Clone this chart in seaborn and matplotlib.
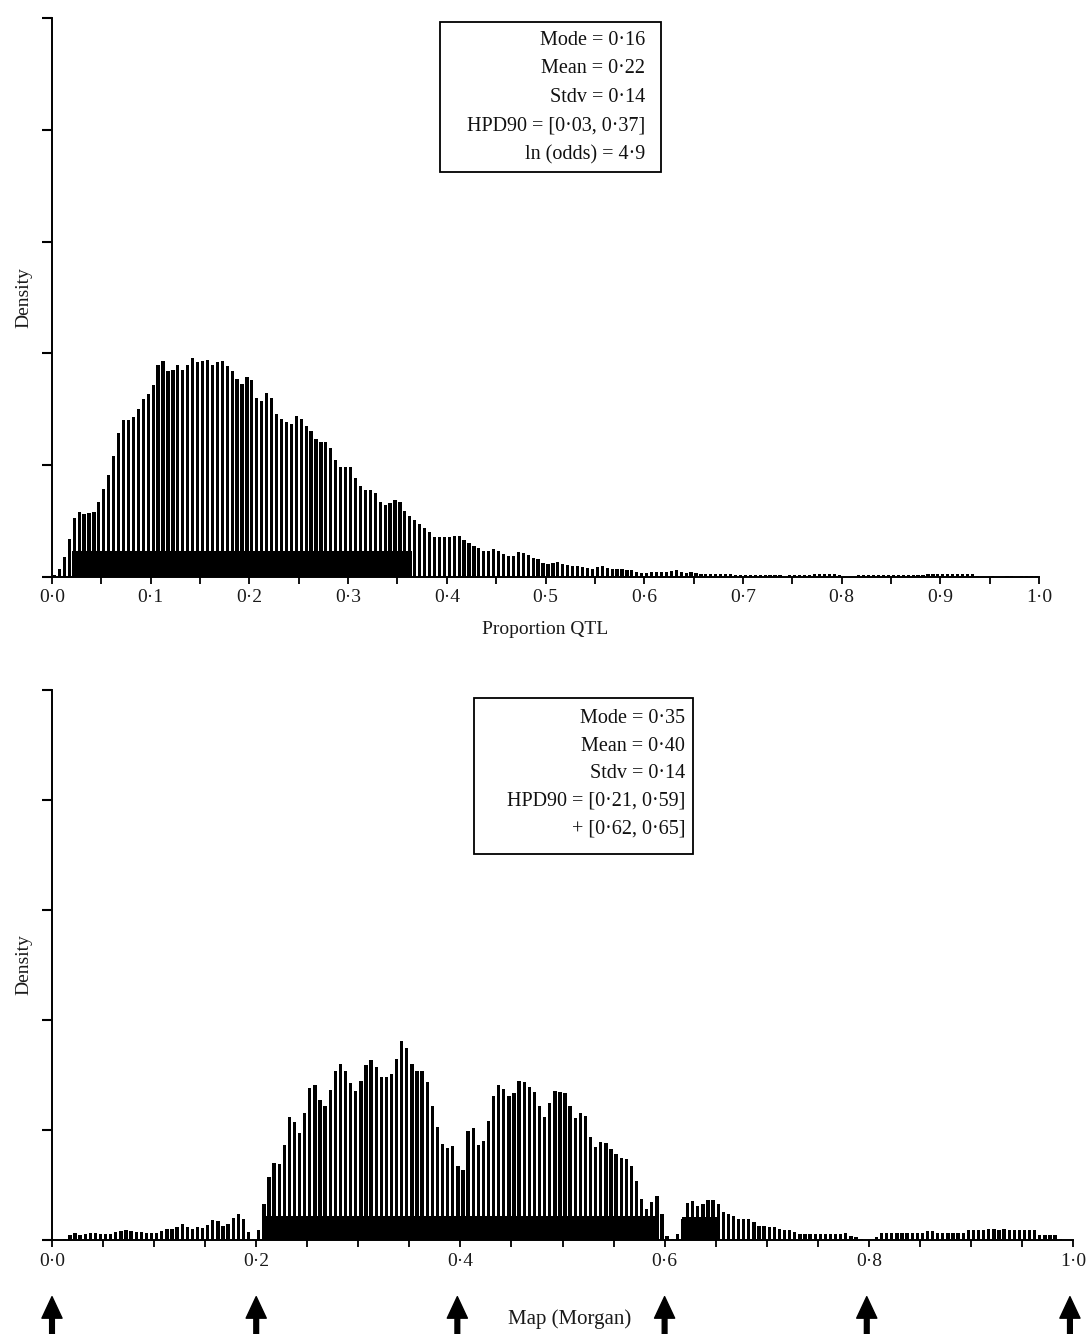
import numpy as np
import pandas as pd
import matplotlib
matplotlib.use("Agg")
import matplotlib.pyplot as plt
import seaborn as sns
from matplotlib.patches import Rectangle

# ---------------- data ----------------
BIN_WIDTH = 0.005

# posterior density of proportion QTL (200 bins of width 0.005)
qtl_density = [
    0.03, 0.14, 0.36, 0.68, 1.05, 1.16, 1.13, 1.14, 1.16, 1.34,
    1.57, 1.82, 2.16, 2.57, 2.80, 2.80, 2.86, 3.00, 3.18, 3.27,
    3.43, 3.80, 3.86, 3.68, 3.71, 3.80, 3.71, 3.80, 3.91, 3.84,
    3.86, 3.88, 3.79, 3.84, 3.86, 3.77, 3.68, 3.55, 3.46, 3.57,
    3.52, 3.20, 3.14, 3.30, 3.21, 2.91, 2.82, 2.77, 2.73, 2.88,
    2.82, 2.70, 2.61, 2.46, 2.41, 2.41, 2.30, 2.09, 1.96, 1.96,
    1.96, 1.77, 1.63, 1.55, 1.55, 1.50, 1.34, 1.29, 1.32, 1.38,
    1.34, 1.18, 1.09, 1.02, 0.95, 0.88, 0.80, 0.71, 0.71, 0.71,
    0.71, 0.73, 0.73, 0.66, 0.61, 0.55, 0.52, 0.46, 0.46, 0.50,
    0.46, 0.41, 0.38, 0.38, 0.45, 0.43, 0.39, 0.34, 0.32, 0.25,
    0.23, 0.25, 0.27, 0.23, 0.21, 0.20, 0.20, 0.18, 0.16, 0.14,
    0.18, 0.20, 0.16, 0.14, 0.14, 0.14, 0.13, 0.13, 0.09, 0.07,
    0.07, 0.09, 0.09, 0.09, 0.09, 0.11, 0.13, 0.09, 0.07, 0.09,
    0.07, 0.05, 0.05, 0.05, 0.05, 0.05, 0.05, 0.05, 0.04, 0.04,
    0.04, 0.04, 0.04, 0.04, 0.04, 0.04, 0.04, 0.04, 0.00, 0.04,
    0.04, 0.04, 0.04, 0.04, 0.05, 0.05, 0.05, 0.05, 0.05, 0.04,
    0.00, 0.00, 0.00, 0.04, 0.04, 0.04, 0.04, 0.04, 0.04, 0.04,
    0.04, 0.04, 0.04, 0.04, 0.04, 0.04, 0.04, 0.05, 0.05, 0.05,
    0.05, 0.05, 0.05, 0.05, 0.05, 0.05, 0.05, 0.01, 0.00, 0.00,
    0.01, 0.00, 0.00, 0.02, 0.02, 0.00, 0.02, 0.02, 0.02, 0.02,
]

# posterior density of QTL map position (200 bins of width 0.005 Morgan)
map_density = [
    0.00, 0.00, 0.02, 0.09, 0.13, 0.09, 0.11, 0.13, 0.13, 0.11,
    0.11, 0.11, 0.15, 0.16, 0.18, 0.16, 0.15, 0.15, 0.13, 0.13,
    0.13, 0.16, 0.20, 0.20, 0.24, 0.29, 0.24, 0.20, 0.24, 0.22,
    0.27, 0.36, 0.35, 0.25, 0.29, 0.40, 0.47, 0.38, 0.15, 0.02,
    0.18, 0.65, 1.15, 1.40, 1.38, 1.73, 2.24, 2.15, 1.95, 2.31,
    2.76, 2.82, 2.55, 2.44, 2.73, 3.07, 3.20, 3.07, 2.85, 2.71,
    2.89, 3.18, 3.27, 3.15, 2.96, 2.96, 3.02, 3.29, 3.62, 3.49,
    3.20, 3.07, 3.07, 2.87, 2.44, 2.05, 1.75, 1.67, 1.71, 1.35,
    1.27, 1.98, 2.04, 1.73, 1.80, 2.16, 2.62, 2.82, 2.75, 2.62,
    2.67, 2.89, 2.87, 2.78, 2.69, 2.44, 2.24, 2.49, 2.71, 2.69,
    2.67, 2.44, 2.22, 2.31, 2.25, 1.87, 1.69, 1.78, 1.76, 1.65,
    1.56, 1.49, 1.47, 1.35, 1.07, 0.75, 0.56, 0.69, 0.80, 0.47,
    0.07, 0.02, 0.11, 0.38, 0.67, 0.71, 0.62, 0.65, 0.73, 0.73,
    0.65, 0.51, 0.47, 0.44, 0.38, 0.38, 0.38, 0.33, 0.25, 0.25,
    0.24, 0.24, 0.20, 0.18, 0.18, 0.15, 0.11, 0.11, 0.11, 0.11,
    0.11, 0.11, 0.11, 0.11, 0.11, 0.13, 0.07, 0.05, 0.02, 0.00,
    0.00, 0.05, 0.13, 0.13, 0.13, 0.13, 0.13, 0.13, 0.13, 0.13,
    0.13, 0.16, 0.16, 0.13, 0.13, 0.13, 0.13, 0.13, 0.13, 0.18,
    0.18, 0.18, 0.18, 0.20, 0.20, 0.18, 0.20, 0.18, 0.18, 0.18,
    0.18, 0.18, 0.18, 0.09, 0.09, 0.09, 0.09, 0.02, 0.00, 0.00,
]

# HPD90 intervals drawn as solid bands (lower, upper, band height)
qtl_hpd_lo = [0.020]
qtl_hpd_hi = [0.365]
qtl_hpd_h = [0.46]
map_hpd_lo = [0.209, 0.617]
map_hpd_hi = [0.595, 0.653]
map_hpd_h = [0.44, 0.42]

# marker positions (Morgan) shown as arrows
marker_pos = [0.0, 0.2, 0.397, 0.6, 0.798, 0.997]

qtl_stats = ["Mode = 0·16", "Mean = 0·22", "Stdv = 0·14",
             "HPD90 = [0·03, 0·37]", "ln (odds) = 4·9"]
map_stats = ["Mode = 0·35", "Mean = 0·40", "Stdv = 0·14",
             "HPD90 = [0·21, 0·59]", "+ [0·62, 0·65]"]

qtl_ticks = [0.0, 0.1, 0.2, 0.3, 0.4, 0.5, 0.6, 0.7, 0.8, 0.9, 1.0]
qtl_ticklabels = ["0·0", "0·1", "0·2", "0·3", "0·4", "0·5", "0·6", "0·7", "0·8", "0·9", "1·0"]
map_ticks = [0.0, 0.2, 0.4, 0.6, 0.8, 1.0]
map_ticklabels = ["0·0", "0·2", "0·4", "0·6", "0·8", "1·0"]

# ---------------- style ----------------
sns.set_style("ticks")
plt.rcParams["font.family"] = ["Liberation Serif", "DejaVu Serif"]
plt.rcParams["text.color"] = "#111111"

W, H = 1090, 1334
fig = plt.figure(figsize=(W / 100, H / 100), dpi=100)

def px_axes(left, right, top, bottom):
    return fig.add_axes([left / W, (H - bottom) / H, (right - left) / W, (bottom - top) / H])

ax1 = px_axes(52, 1039, 18, 577)
ax2 = px_axes(52, 1073, 690, 1240)

n = len(qtl_density)
centers = np.arange(n) * BIN_WIDTH + BIN_WIDTH / 2

def draw(ax, dens, lo, hi, hh, ticks, ticklabels, minor_step):
    df = pd.DataFrame({"x": centers, "w": np.asarray(dens, dtype=float)})
    sns.histplot(data=df, x="x", weights="w", binwidth=BIN_WIDTH, binrange=(0, 1),
                 shrink=0.65, color="black", alpha=1, linewidth=0, ax=ax)
    for a, b, h in zip(lo, hi, hh):
        ax.bar(a, h, width=b - a, align="edge", color="black", linewidth=0)
    ax.set_xlim(0, 1.0)
    ax.set_ylim(0, 10)
    ax.set_yticks([0, 2, 4, 6, 8, 10])
    ax.set_yticklabels([])
    ax.set_xticks(np.arange(0, 1.0001, minor_step), minor=True)
    ax.set_xticks(ticks)
    ax.set_xticklabels(ticklabels, fontsize=14, color="#1a1a1a")
    ax.tick_params(axis="x", which="both", direction="out", length=5, width=1.3, pad=4, color="black")
    ax.tick_params(axis="y", direction="out", length=7, width=1.5, color="black")
    for s in ["top", "right"]:
        ax.spines[s].set_visible(False)
    for s in ["left", "bottom"]:
        ax.spines[s].set_linewidth(1.4)
        ax.spines[s].set_color("black")
    ax.set_facecolor("white")
    ax.set_ylabel("Density", fontsize=14, color="#1a1a1a")

draw(ax1, qtl_density, qtl_hpd_lo, qtl_hpd_hi, qtl_hpd_h, qtl_ticks, qtl_ticklabels, 0.05)
draw(ax2, map_density, map_hpd_lo, map_hpd_hi, map_hpd_h, map_ticks, map_ticklabels, 0.05)

ax1.yaxis.set_label_coords(-0.020, 0.5)
ax2.yaxis.set_label_coords(-0.0195, 0.5)
ax1.set_xlabel("Proportion QTL", fontsize=14, color="#1a1a1a")
ax1.xaxis.set_label_coords(0.5, -0.078)
ax2.set_xlabel("Map (Morgan)", fontsize=15, color="#1a1a1a")
ax2.xaxis.set_label_coords(0.507, -0.126)

def stats_box(ax, lines, x0, x1, y0, y1, xr, ytop, step):
    ax.add_patch(Rectangle((x0, y0), x1 - x0, y1 - y0, transform=ax.transAxes,
                           facecolor="white", edgecolor="black", linewidth=1.3,
                           zorder=5, clip_on=False))
    for k, t in enumerate(lines):
        ax.text(xr, ytop - k * step, t, transform=ax.transAxes, ha="right", va="center",
                fontsize=14.5, color="#111111", zorder=6)

stats_box(ax1, qtl_stats, 0.393, 0.617, 0.7245, 0.993, 0.601, 0.960, 28.5 / 559)
stats_box(ax2, map_stats, 0.413, 0.628, 0.702, 0.9855, 0.620, 0.948, 27.5 / 550)

# marker arrows below the map axis
tr = ax2.get_xaxis_transform()
for m in marker_pos:
    ax2.annotate("", xy=(m, -0.103), xycoords=tr, xytext=(m, -0.22), textcoords=tr,
                 arrowprops=dict(facecolor="black", edgecolor="black", width=3.4,
                                 headwidth=14.5, headlength=15.5, shrink=0),
                 annotation_clip=False)

fig.savefig("out.png", dpi=100, facecolor="white")
